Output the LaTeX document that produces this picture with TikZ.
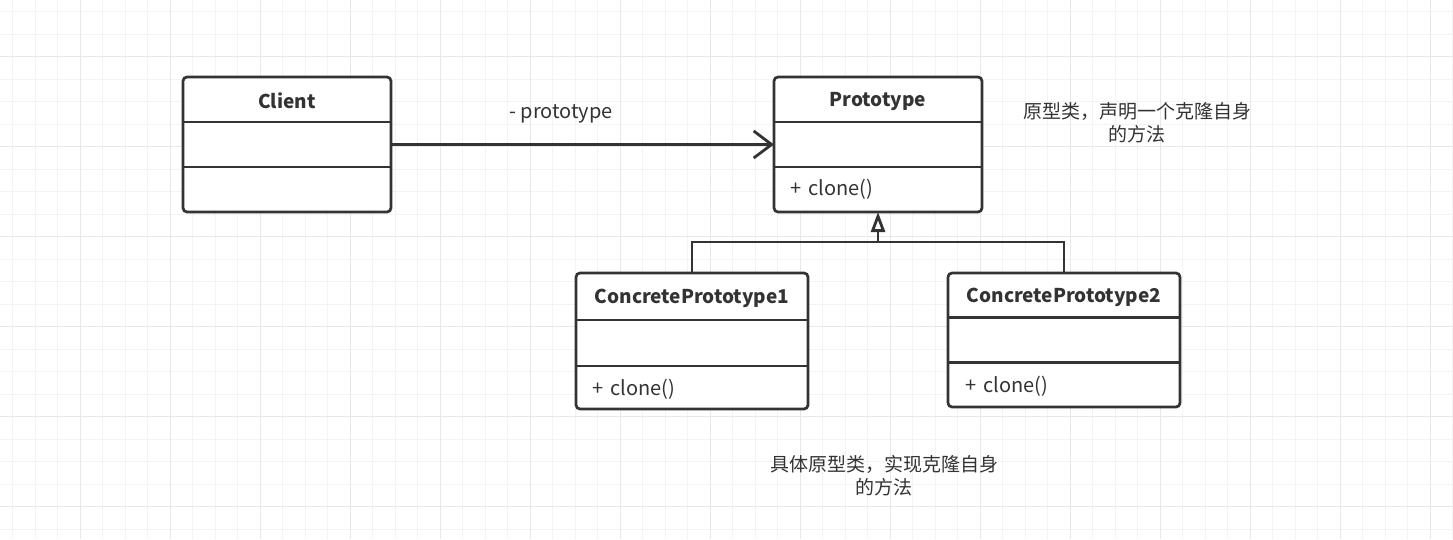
\documentclass[tikz,border=0pt]{standalone}
\usepackage{fontspec}
\setmainfont{Noto Sans CJK SC}
\usetikzlibrary{arrows.meta}
\definecolor{ink}{HTML}{333333}
\definecolor{gridA}{HTML}{F3F3F3}
\definecolor{gridB}{HTML}{E8E8E8}
\begin{document}
\begin{tikzpicture}[x=1pt,y=-1pt,
  gridl/.style={gridA,line width=1pt},
  gridh/.style={gridB,line width=1pt},
  cls/.style={draw=ink,fill=white,line width=2.7pt,rounded corners=4pt,inner sep=0pt,outer sep=0pt},
  div/.style={draw=ink,line width=2.7pt},
  conn/.style={draw=ink,line width=2.8pt},
  ttl/.style={text=ink,font=\fontsize{19}{23}\selectfont\bfseries,inner sep=0pt},
  op/.style={text=ink,font=\fontsize{20}{23}\selectfont,inner sep=0pt,anchor=west},
  note/.style={text=ink,font=\fontsize{19}{23.3}\selectfont,inner sep=0pt,align=center}
]
\useasboundingbox (0,0) rectangle (1453,539);
\fill[white] (0,0) rectangle (1453,539);
% grid
\foreach \i in {0,...,64} \draw[gridl] ({12.5+22.5*\i},0) -- ({12.5+22.5*\i},539);
\foreach \i in {0,...,23} \draw[gridl] (0,{11.7+22.5*\i}) -- (1453,{11.7+22.5*\i});
\foreach \i in {0,...,15} \draw[gridh] ({80+90*\i},0) -- ({80+90*\i},539);
\foreach \i in {0,...,5} \draw[gridh] (0,{56.7+90*\i}) -- (1453,{56.7+90*\i});

% classes
\node[cls,minimum width=208pt,minimum height=135pt] (client) at (287,144.5) {};
\draw[div] (client.west |- 0,122) -- (client.east |- 0,122);
\draw[div] (client.west |- 0,167) -- (client.east |- 0,167);
\node[ttl] (clientT) at (287,101) {Client};

\node[cls,minimum width=208pt,minimum height=135pt] (proto) at (878,144.5) {};
\draw[div] (proto.west |- 0,122) -- (proto.east |- 0,122);
\draw[div] (proto.west |- 0,167) -- (proto.east |- 0,167);
\node[ttl] (protoT) at (878,101) {Prototype};
\node[op] (protoOp) at (790,189.5) {+\hspace{0.35em}clone()};

\node[cls,minimum width=232pt,minimum height=136pt] (cp1) at (692,341) {};
\draw[div] (cp1.west |- 0,320) -- (cp1.east |- 0,320);
\draw[div] (cp1.west |- 0,366) -- (cp1.east |- 0,366);
\node[ttl] (cp1T) at (692,298.5) {ConcretePrototype1};
\node[op] (cp1Op) at (592,389.5) {+\hspace{0.35em}clone()};

\node[cls,minimum width=232pt,minimum height=134pt] (cp2) at (1064,340) {};
\draw[div] (cp2.west |- 0,317.7) -- (cp2.east |- 0,317.7);
\draw[div] (cp2.west |- 0,362.7) -- (cp2.east |- 0,362.7);
\node[ttl] (cp2T) at (1064,297.5) {ConcretePrototype2};
\node[op] (cp2Op) at (965,386.5) {+\hspace{0.35em}clone()};

% association
\draw[conn,-{Straight Barb[length=18pt,width=27pt,line width=2.8pt]}] (client) -- (proto);
\node[text=ink,font=\fontsize{20}{23}\selectfont,inner sep=0pt] (assoc) at (561,113.5) {- prototype};

% generalization
\coordinate (j) at (878,242);
\draw[conn] (cp1.north) -- (cp1.north |- j) -- (cp2.north |- j) -- (cp2.north);
\draw[conn,-{Triangle[length=20pt,width=14pt,fill=white]}] (j) -- (proto.south);

% notes
\node[note] (n1) at (1137,123) {原型类，声明一个克隆自身\\的方法};
\node[note] (n2) at (884,476) {具体原型类，实现克隆自身\\的方法};
\end{tikzpicture}
\end{document}
